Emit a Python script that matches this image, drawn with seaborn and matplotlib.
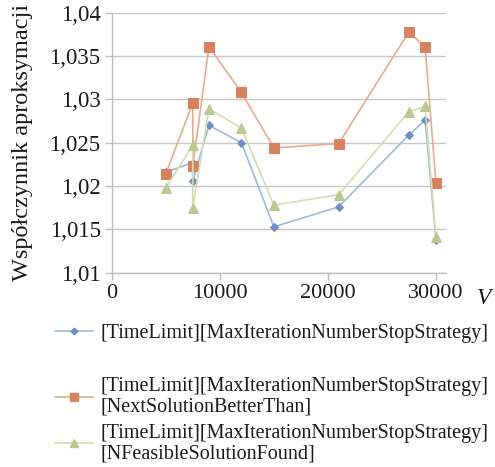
import matplotlib
matplotlib.use("Agg")
import matplotlib.pyplot as plt
import matplotlib.ticker as mticker
from matplotlib.lines import Line2D
import seaborn as sns
import pandas as pd

# Problem size V and approximation ratios for each stop-strategy combination
v_values = [5000, 7500, 7500, 9000, 12000, 15000, 21000, 27500, 29000, 30000]
ratio_time_iter = [1.0216, 1.0227, 1.0206, 1.0270, 1.0250, 1.0153, 1.0176, 1.0259, 1.0276, 1.0138]
ratio_time_iter_next = [1.0214, 1.0296, 1.0223, 1.0361, 1.0308, 1.0244, 1.0249, 1.0378, 1.0360, 1.0204]
ratio_time_iter_nfeas = [1.0198, 1.0247, 1.0175, 1.0289, 1.0267, 1.0178, 1.0190, 1.0286, 1.0292, 1.0141]

series_labels = [
    "[TimeLimit][MaxIterationNumberStopStrategy]",
    "[TimeLimit][MaxIterationNumberStopStrategy]\n[NextSolutionBetterThan]",
    "[TimeLimit][MaxIterationNumberStopStrategy]\n[NFeasibleSolutionFound]",
]
y_ticks = [1.01, 1.015, 1.02, 1.025, 1.03, 1.035, 1.04]
x_ticks = [0, 10000, 20000, 30000]

sns.set_theme(style="white")
plt.rcParams["font.family"] = ["Liberation Serif", "DejaVu Serif"]

frames = []
for label, vals in zip(series_labels, [ratio_time_iter, ratio_time_iter_next, ratio_time_iter_nfeas]):
    frames.append(pd.DataFrame({"V": v_values, "ratio": vals, "series": label}))
df = pd.concat(frames, ignore_index=True)

line_colors = ["#a3b8da", "#e8aa90", "#d3ddb3"]
marker_colors = ["#6f8fc3", "#d6825f", "#b9c98f"]
markers = ["D", "s", "^"]
marker_sizes = [4.5, 7, 7]

fig = plt.figure(figsize=(4.95, 4.67), dpi=100)
ax = fig.add_axes([0.2257, 0.416, 0.9004 - 0.2257, 0.9728 - 0.416])

handles = []
for label, lc, mc, mk, ms in zip(series_labels, line_colors, marker_colors, markers, marker_sizes):
    sub = df[df["series"] == label]
    sns.lineplot(data=sub, x="V", y="ratio", sort=False, estimator=None, ax=ax,
                 color=lc, linewidth=1.2, marker=mk, markersize=ms,
                 markerfacecolor=mc, markeredgecolor=mc, legend=False)
    handles.append(Line2D([], [], color=lc, linewidth=1.2, marker=mk,
                          markersize=ms * 0.75, markerfacecolor=mc, markeredgecolor=mc))

ax.set_xlim(0, 30900)
ax.set_ylim(1.01, 1.04)
ax.set_yticks(y_ticks)
ax.set_xticks(x_ticks)
ax.yaxis.set_major_formatter(mticker.FuncFormatter(
    lambda v, p: ("%g" % round(v, 4)).replace(".", ",")))
ax.xaxis.set_major_formatter(mticker.FuncFormatter(lambda v, p: "%d" % v))

ax.grid(axis="y", color="#c6c6c6", linewidth=1.0)
ax.set_axisbelow(True)
for side in ["top", "right"]:
    ax.spines[side].set_visible(False)
for side in ["left", "bottom"]:
    ax.spines[side].set_color("#bdbdbd")
    ax.spines[side].set_linewidth(1.0)
ax.tick_params(axis="both", which="both", length=5, width=1, color="#bdbdbd",
               labelcolor="#1a1a1a", direction="out", pad=3)
ax.tick_params(axis="y", left=True, labelsize=16.5)
ax.tick_params(axis="x", bottom=True, labelsize=16)

ax.set_xlabel("")
ax.set_ylabel("Współczynnik aproksymacji", fontsize=17.5, color="#1a1a1a", labelpad=12)
ax.text(1.115, -0.1, "V", transform=ax.transAxes, fontsize=17, style="italic",
        color="#1a1a1a", ha="center", va="center")

legend_kw = dict(loc="center left", frameon=False, fontsize=14.5, handlelength=1.9,
                 handletextpad=0.35, borderaxespad=0, borderpad=0)
leg1 = fig.legend(handles=[handles[0]], labels=[series_labels[0]],
                  bbox_to_anchor=(55 / 495, 1 - 333 / 467), **legend_kw)
leg2 = fig.legend(handles=handles[1:], labels=series_labels[1:],
                  bbox_to_anchor=(55 / 495, 1 - 420 / 467), labelspacing=0.35, **legend_kw)
for leg in (leg1, leg2):
    for t in leg.get_texts():
        t.set_color("#1a1a1a")
        t.set_linespacing(1.12)

fig.savefig("out.png", dpi=100)
